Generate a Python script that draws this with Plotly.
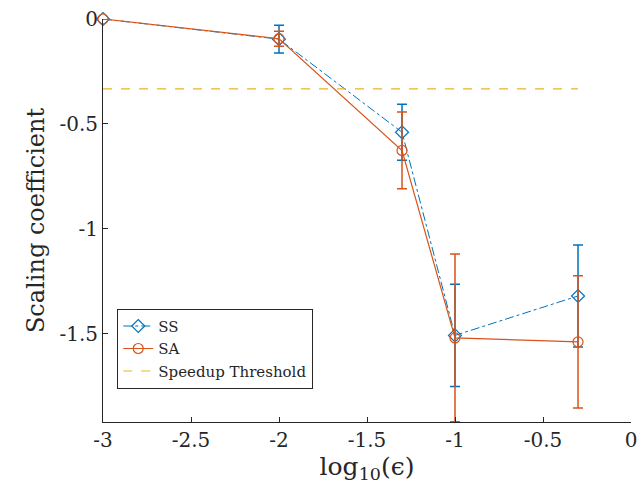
import plotly.graph_objects as go

# Data
x_log_eps = [-3, -2, -1.301, -1, -0.301]
ss_y = [0.0, -0.096, -0.540, -1.509, -1.321]
ss_err = [0.0, 0.066, 0.134, 0.244, 0.243]
sa_y = [0.0, -0.094, -0.627, -1.521, -1.540]
sa_err = [0.0, 0.036, 0.183, 0.400, 0.315]
threshold_x = [-3, -0.301]
threshold_y = [-1/3, -1/3]
x_ticks = [-3, -2.5, -2, -1.5, -1, -0.5, 0]
x_ticktext = ["-3", "-2.5", "-2", "-1.5", "-1", "-0.5", "0"]
y_ticks = [0, -0.5, -1, -1.5]
y_ticktext = ["0", "-0.5", "-1", "-1.5"]

BLUE = "#0072BD"
ORANGE = "#D95319"
YELLOW = "#EDB120"
FONT = "DejaVu Serif"
TXT = "#262626"

fig = go.Figure()
fig.add_trace(go.Scatter(
    x=x_log_eps, y=ss_y, name="SS", mode="lines+markers",
    line=dict(color=BLUE, width=1, dash="dashdot"),
    marker=dict(symbol="diamond-open", size=10, color=BLUE, line=dict(width=1.2)),
    error_y=dict(type="data", array=ss_err, visible=True, color=BLUE, thickness=1.5, width=5),
    cliponaxis=False,
))
fig.add_trace(go.Scatter(
    x=x_log_eps, y=sa_y, name="SA", mode="lines+markers",
    line=dict(color=ORANGE, width=1.2),
    marker=dict(symbol="circle-open", size=10, color=ORANGE, line=dict(width=1.2)),
    error_y=dict(type="data", array=sa_err, visible=True, color=ORANGE, thickness=1.5, width=5),
    cliponaxis=False,
))
fig.add_trace(go.Scatter(
    x=threshold_x, y=threshold_y, name="Speedup Threshold", mode="lines",
    line=dict(color=YELLOW, width=1.2, dash="dash"),
))

axis_common = dict(
    showgrid=False, zeroline=False, showline=True, linecolor=TXT, linewidth=1,
    ticks="inside", ticklen=5, tickcolor=TXT, mirror=False,
    tickfont=dict(family=FONT, size=20, color=TXT),
    ticklabeloverflow="allow",
)
fig.update_xaxes(range=[-3, 0], tickvals=x_ticks, ticktext=x_ticktext,
                 title=dict(text="log<sub>10</sub>(ϵ)", font=dict(family=FONT, size=25, color=TXT), standoff=3),
                 **axis_common)
fig.update_yaxes(range=[-1.922, 0], tickvals=y_ticks, ticktext=y_ticktext,
                 title=dict(text="Scaling coefficient", font=dict(family=FONT, size=24, color=TXT), standoff=8),
                 **axis_common)

fig.update_layout(
    width=644, height=496,
    margin=dict(l=102.5, r=6.3, t=18.7, b=73.7),
    paper_bgcolor="white", plot_bgcolor="white",
    showlegend=True,
    legend=dict(x=0.027, y=0.281, xanchor="left", yanchor="top",
                bgcolor="white", bordercolor=TXT, borderwidth=1,
                font=dict(family=FONT, size=15, color=TXT),
                tracegroupgap=0),
)

fig.write_html("out.html")
